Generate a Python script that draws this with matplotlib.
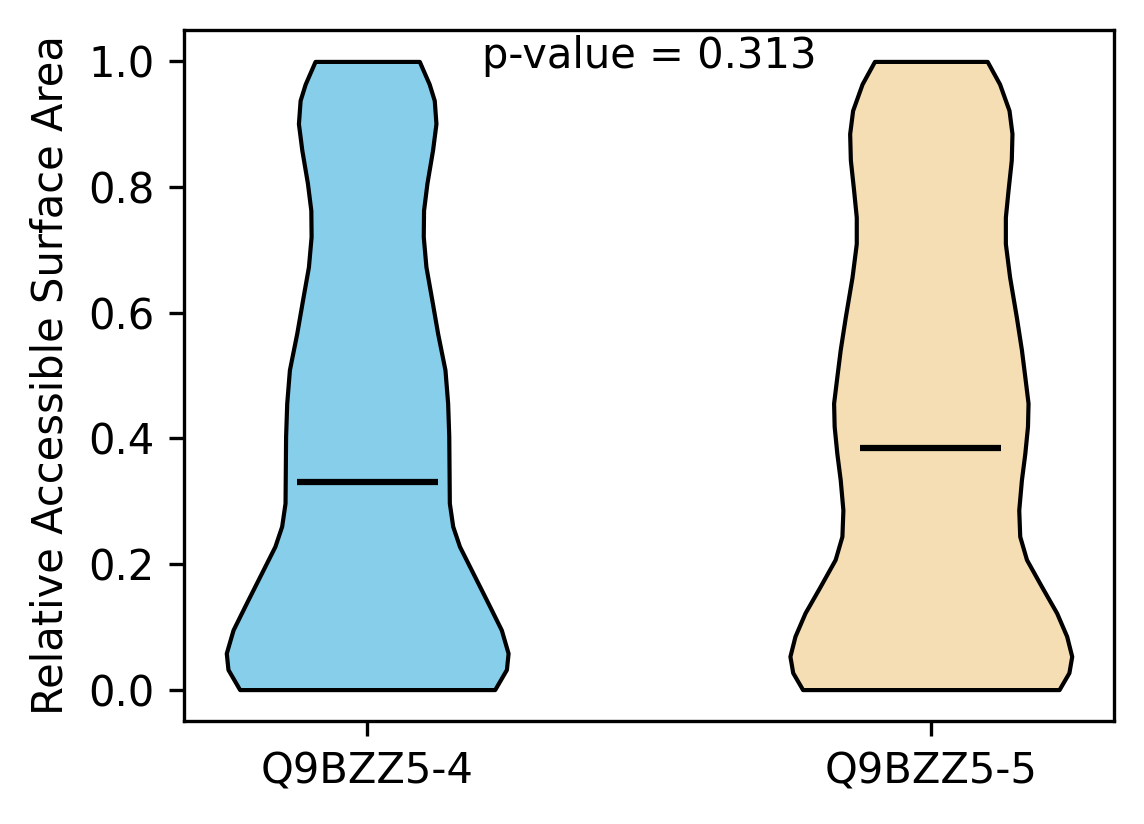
import numpy as np
import matplotlib
matplotlib.use("Agg")
import matplotlib.pyplot as plt

labels = ["Q9BZZ5-4", "Q9BZZ5-5"]
colors = ["skyblue", "wheat"]
medians = [0.331, 0.385]
p_value = 0.313

# kernel density profiles (relative half width)
rsa_4 = [0.0, 0.032, 0.058, 0.095, 0.138, 0.191, 0.228, 0.260, 0.297, 0.350,
         0.403, 0.456, 0.509, 0.567, 0.620, 0.673, 0.721, 0.763, 0.806, 0.859,
         0.901, 0.938, 0.964, 1.0]
dens_4 = [0.905, 0.988, 1.0, 0.952, 0.857, 0.738, 0.655, 0.607, 0.583, 0.581,
          0.579, 0.571, 0.552, 0.50, 0.459, 0.417, 0.398, 0.40, 0.424, 0.464,
          0.488, 0.476, 0.44, 0.37]

rsa_5 = [0.0, 0.027, 0.053, 0.085, 0.122, 0.164, 0.207, 0.244, 0.286, 0.334,
         0.376, 0.419, 0.456, 0.498, 0.541, 0.593, 0.657, 0.710, 0.752, 0.795,
         0.843, 0.885, 0.922, 0.964, 1.0]
dens_5 = [0.91, 0.98, 1.0, 0.964, 0.893, 0.786, 0.679, 0.631, 0.624, 0.643,
          0.667, 0.686, 0.69, 0.667, 0.643, 0.607, 0.559, 0.529, 0.529, 0.548,
          0.571, 0.576, 0.555, 0.488, 0.40]

stats = []
for rsa, dens, med in zip([rsa_4, rsa_5], [dens_4, dens_5], medians):
    stats.append({
        "coords": np.array(rsa),
        "vals": np.array(dens),
        "mean": med,
        "median": med,
        "min": rsa[0],
        "max": rsa[-1],
    })

fig = plt.figure(figsize=(1144 / 300, 824 / 300), dpi=300)
ax = fig.add_axes([184 / 1144, 1 - 721 / 824, 930 / 1144, 691 / 824])

parts = ax.violin(stats, positions=[1, 2], widths=0.5,
                  showmeans=False, showextrema=False, showmedians=True)
for body, c in zip(parts["bodies"], colors):
    body.set_facecolor(c)
    body.set_edgecolor("black")
    body.set_linewidth(1)
    body.set_alpha(1)
parts["cmedians"].set_color("black")
parts["cmedians"].set_linewidth(1.5)

ax.set_xticks([1, 2])
ax.set_xticklabels(labels)
ax.set_ylabel("Relative Accessible Surface Area")
ax.text(1.5, 0.99, f"p-value = {p_value:.3f}", ha="center", va="baseline")

fig.savefig("out.png", dpi=300)
